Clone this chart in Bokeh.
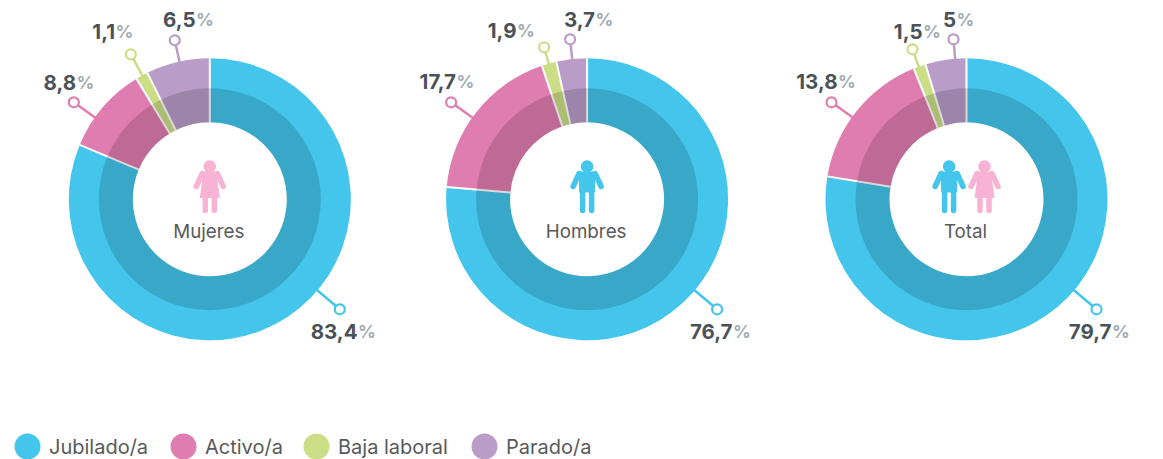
import math
from bokeh.embed import file_html
from bokeh.models import Range1d
from bokeh.plotting import figure
from bokeh.resources import INLINE
from bokeh.core.properties import value

FONT = "Inter"
PAGE_H = 459

panels = ["Mujeres", "Hombres", "Total"]
series = ["Jubilado/a", "Activo/a", "Baja laboral", "Parado/a"]
colors = ["#43C5EC", "#E07DB0", "#CBDD85", "#B99CC8"]

# labels printed on the chart
labels_mujeres = ["83,4", "8,8", "1,1", "6,5"]
labels_hombres = ["76,7", "17,7", "1,9", "3,7"]
labels_total = ["79,7", "13,8", "1,5", "5"]

# slice shares as drawn in the picture (percent)
shares_mujeres = [81.3, 10.0, 1.4, 7.3]
shares_hombres = [76.4, 18.4, 1.7, 3.5]
shares_total = [77.6, 16.3, 1.4, 4.7]

# layout
centers = [209.3, 586.6, 966.0]
CY = 198.8
R_OUT, R_MID, R_IN = 141, 111, 77
# marker offset from center (px right, px down)
markers = [
    [(130, 110), (-136, -97), (-79, -145), (-35, -159)],
    [(130, 110), (-136, -97), (-43, -152), (-17, -160)],
    [(130, 110), (-135, -97), (-54, -150), (-13, -160)],
]
# label: split x between number and %, centre y
label_pos = [
    [(357, 331), (75.5, 82), (114.5, 31), (195, 19)],
    [(732, 331), (455.5, 81), (516, 30), (594.5, 19)],
    [(1111, 331), (837, 81), (922, 31), (955.5, 19)],
]
legend_x = [27, 183, 316, 484]
legend_y = 446


def Y(py):
    return PAGE_H - py


p = figure(width=1163, height=459, output_backend="svg", toolbar_location=None,
           x_axis_type=None, y_axis_type=None,
           x_range=Range1d(0, 1163), y_range=Range1d(0, 459),
           min_border=0, outline_line_color=None)
p.grid.visible = False
p.background_fill_color = "white"
p.border_fill_color = "white"

all_shares = [shares_mujeres, shares_hombres, shares_total]
all_labels = [labels_mujeres, labels_hombres, labels_total]


def person(cx, kind):
    color = "#F8B2D3" if kind == "w" else "#43C5EC"
    p.scatter([cx], [Y(166)], marker="circle", size=12.5, fill_color=color, line_color=None)
    arm = dict(line_color=color, line_width=5.5, line_cap="round")
    if kind == "w":
        p.patch([cx - 6, cx + 6, cx + 7, cx + 10, cx - 10, cx - 7],
                [Y(171), Y(171), Y(175), Y(197.5), Y(197.5), Y(175)],
                fill_color=color, line_color=None)
        p.line([cx - 7.5, cx - 13.5], [Y(173), Y(186)], **arm)
        p.line([cx + 7.5, cx + 13.5], [Y(173), Y(186)], **arm)
        p.line([cx - 4.5, cx - 4.5], [Y(197), Y(210)], **arm)
        p.line([cx + 4.5, cx + 4.5], [Y(197), Y(210)], **arm)
    else:
        p.patch([cx - 7, cx + 7, cx + 8, cx + 8, cx - 8, cx - 8],
                [Y(171), Y(171), Y(173), Y(192), Y(192), Y(173)],
                fill_color=color, line_color=None)
        p.line([cx - 8, cx - 14], [Y(173), Y(186)], **arm)
        p.line([cx + 8, cx + 14], [Y(173), Y(186)], **arm)
        p.line([cx - 4.5, cx - 4.5], [Y(190), Y(210)], **arm)
        p.line([cx + 4.5, cx + 4.5], [Y(190), Y(210)], **arm)


for i, cx in enumerate(centers):
    shares = all_shares[i]
    total = sum(shares)
    a = math.pi / 2
    for s, c in zip(shares, colors):
        b = a - 2 * math.pi * s / total
        p.annular_wedge([cx], [Y(CY)], inner_radius=R_IN, outer_radius=R_OUT,
                        start_angle=b, end_angle=a, fill_color=c,
                        line_color=None)
        a = b
    # white separators between slices
    a = math.pi / 2
    for s in shares:
        p.line([cx + R_IN * math.cos(a), cx + R_OUT * math.cos(a)],
               [Y(CY) + R_IN * math.sin(a), Y(CY) + R_OUT * math.sin(a)],
               line_color="white", line_width=2)
        a -= 2 * math.pi * s / total
    p.annular_wedge([cx], [Y(CY)], inner_radius=R_IN, outer_radius=R_MID,
                    start_angle=0, end_angle=2 * math.pi,
                    fill_color="black", fill_alpha=0.15, line_color=None)

    for (dx, dy), c, (sx, sy), t in zip(markers[i], colors, label_pos[i], all_labels[i]):
        d = math.hypot(dx, dy)
        p.line([cx + dx * (R_OUT - 3) / d, cx + dx], [Y(CY + dy * (R_OUT - 3) / d), Y(CY + dy)],
               line_color=c, line_width=2.5)
        p.scatter([cx + dx], [Y(CY + dy)], marker="circle", size=10, fill_color="white",
                  line_color=c, line_width=2.2)
        p.text([sx], [Y(sy)], text=[t], text_align="right", text_baseline="middle",
               text_font=value(FONT), text_font_size="20.5px", text_font_style="bold",
               text_color="#4A5259")
        p.text([sx + 0.5], [Y(sy)], text=["%"], text_align="left", text_baseline="middle",
               text_font=value(FONT), text_font_size="17.5px", text_font_style="bold",
               text_color="#A1ABB2")

    p.text([cx - 1], [Y(230.5)], text=[panels[i]], text_align="center", text_baseline="middle",
           text_font=value(FONT), text_font_size="18.8px", text_color="#58595B")

person(centers[0], "w")
person(centers[1], "m")
person(centers[2] - 17.4, "m")
person(centers[2] + 18, "w")

for x, c, s in zip(legend_x, colors, series):
    p.circle([x], [Y(legend_y)], radius=13, fill_color=c, line_color=None)
    p.text([x + 21.5], [Y(legend_y)], text=[s], text_align="left", text_baseline="middle",
           text_font=value(FONT), text_font_size="20px", text_color="#58595B")

open("out.html", "w").write(file_html(p, INLINE))
